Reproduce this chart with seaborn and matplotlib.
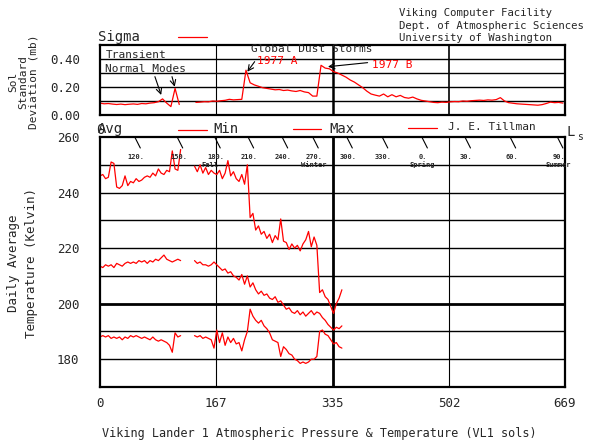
import numpy as np
import pandas as pd
import matplotlib
matplotlib.use("Agg")
import matplotlib.pyplot as plt
from matplotlib.lines import Line2D
import seaborn as sns

# daily temperatures, one value every 4 sols (nan = no data)
temp_sols = list(range(0, 352, 4))
t_max = [246, 246.5, 245, 245.5, 251, 250.5, 242, 241.5, 242.5, 246,
         242.5, 244, 243.5, 245, 244, 244.5, 245.5, 246, 245.5, 247,
         246, 248.5, 247, 246.5, 248, 247.5, 255, 248.5, 248, 255.5,
         np.nan, np.nan, np.nan, np.nan, 249.5, 247.5, 250, 247, 249, 246.5,
         248, 247, 246.5, 248, 245, 247, 251.5, 246, 247.5, 245,
         244, 246.5, 243, 250, 231, 232.5, 226.5, 228, 225, 226,
         223.5, 225, 222, 224.5, 223, 230.5, 222.5, 222, 219.5, 221.5,
         220, 221, 219, 221.5, 223, 226, 220.5, 224, 221, 204,
         205, 202.5, 201.5, 199, 196.5, 200, 202, 205]
t_avg = [213.5, 213, 214, 213.5, 214, 213, 214.5, 214, 213.5, 214.5,
         215, 214.5, 215, 214.5, 215.5, 215, 215.5, 214.5, 215.5, 215,
         216, 215.5, 216.5, 217.5, 216, 215.5, 215, 215.5, 216, 215.5,
         np.nan, np.nan, np.nan, np.nan, 215.5, 214.5, 215, 214, 214, 213.5,
         214, 215, 214, 213, 212, 212.5, 211, 211.5, 210, 209.5,
         208.5, 210.5, 207, 210, 206, 207.5, 205, 203.5, 204.5, 203,
         203.5, 202, 201.5, 202.5, 200.5, 201, 199.5, 198, 198.5, 197,
         196.5, 197.5, 196, 197, 195.5, 196.5, 197.5, 196, 197, 196.5,
         195, 194, 192.5, 191.5, 190.5, 191.5, 191, 192]
t_min = [188, 188.5, 188, 188.5, 187.5, 188, 187.5, 188, 187, 188,
         187.5, 188.5, 188, 188.5, 188, 187.5, 188, 187.5, 187, 188,
         187, 186.5, 187, 186.5, 186, 185, 182.5, 189.5, 188, 188.5,
         np.nan, np.nan, np.nan, np.nan, 188.5, 188, 188.5, 187.5, 188, 187.5,
         187, 184, 190.5, 186, 189.5, 185, 188, 186, 187.5, 185.5,
         186, 183, 187, 190, 198, 195.5, 194, 193, 194, 192,
         191, 189.5, 187, 186.5, 186, 181, 184.5, 183.5, 182, 181.5,
         180, 179.5, 178.5, 179, 178.5, 179, 180, 180, 181, 190,
         190.5, 189, 188.5, 187, 185.5, 186, 184.5, 184]

# sol standard deviation of pressure, one value every 6 sols
sigma_sols = list(range(0, 670, 6))
sigma = [0.085, 0.080, 0.082, 0.078, 0.075, 0.078, 0.074, 0.077, 0.079, 0.076,
         0.082, 0.080, 0.085, 0.088, 0.095, 0.115, 0.085, 0.060, 0.190, 0.075,
         np.nan, np.nan, np.nan, 0.090, 0.092, 0.095, 0.094, 0.100, 0.098, 0.102,
         0.105, 0.112, 0.108, 0.110, 0.112, 0.320, 0.230, 0.215, 0.205, 0.195,
         0.190, 0.185, 0.180, 0.182, 0.175, 0.178, 0.172, 0.168, 0.175, 0.165,
         0.160, 0.135, 0.135, 0.355, 0.335, 0.330, 0.310, 0.300, 0.285, 0.270,
         0.250, 0.235, 0.215, 0.195, 0.170, 0.150, 0.142, 0.135, 0.150, 0.130,
         0.145, 0.130, 0.140, 0.125, 0.120, 0.128, 0.115, 0.105, 0.100, 0.095,
         0.090, 0.088, 0.092, 0.090, 0.094, 0.096, 0.095, 0.100, 0.098, 0.102,
         0.104, 0.106, 0.104, 0.108, 0.106, 0.110, 0.124, 0.100, 0.088, 0.084,
         0.080, 0.078, 0.076, 0.074, 0.072, 0.070, 0.074, 0.082, 0.092, 0.088,
         0.090, 0.085]

x_ticks = [0, 167, 335, 502, 669]
ls_sols = [50, 111, 165, 213, 262, 306, 355, 406, 463, 525, 590, 658]
ls_labels = ["120.", "150.", "180.", "210.", "240.", "270.",
             "300.", "330.", "0.", "30.", "60.", "90."]
seasons = {"180.": "Fall", "270.": "Winter", "0.": "Spring", "90.": "Summer"}


W, H = 593, 442


def fx(px):
    return px / W


def fy(py):
    return 1 - py / H


sns.set_style("white")
plt.rcParams["font.family"] = ["DejaVu Sans Mono"]

fig = plt.figure(figsize=(W / 100, H / 100), dpi=100)
ax_s = fig.add_axes([fx(100), fy(115), 465 / W, 70 / H])
ax_t = fig.add_axes([fx(100), fy(387), 465 / W, 250 / H])

# ---------------- sigma panel ----------------
sig_df = pd.DataFrame({"sol": sigma_sols, "sigma": sigma})
sig_df["seg"] = (sig_df["sol"] > 118).astype(int)
sns.lineplot(data=sig_df, x="sol", y="sigma", units="seg", estimator=None,
             color="red", lw=0.9, ax=ax_s, legend=False)

ax_s.set_xlim(0, 669)
ax_s.set_ylim(0, 0.5)
for y in [0.1, 0.2, 0.3, 0.4]:
    ax_s.axhline(y, color="black", lw=1.0, zorder=0)
ax_s.axvline(167, color="black", lw=0.8, zorder=0)
ax_s.axvline(335, color="black", lw=1.8, zorder=0)
ax_s.axvline(502, color="black", lw=1.2, zorder=0)
ax_s.set_yticks([0, 0.2, 0.4])
ax_s.set_yticklabels(["0.00", "0.20", "0.40"])
ax_s.set_xticks([0])
ax_s.set_xticklabels(["0"])
ax_s.tick_params(axis="y", direction="out", length=3, width=1, pad=11, labelsize=9)
ax_s.tick_params(axis="x", length=0, pad=6, labelsize=10)
ax_s.set_xlabel("")
ax_s.set_ylabel("")

ax_s.text(8, 0.432, "Transient", fontsize=8, va="center")
ax_s.text(7, 0.332, "Normal Modes", fontsize=8, va="center")
arrow = dict(arrowstyle="->", color="black", lw=0.8, shrinkA=0, shrinkB=0)
ax_s.annotate("", xy=(88, 0.143), xytext=(79, 0.274), arrowprops=arrow)
ax_s.annotate("", xy=(107.5, 0.202), xytext=(103.6, 0.274), arrowprops=arrow)
ax_s.text(217, 0.471, "Global Dust Storms", fontsize=8, va="center", clip_on=False)
ax_s.text(226, 0.386, "1977 A", fontsize=8, color="red", va="center")
ax_s.annotate("", xy=(212, 0.309), xytext=(222.5, 0.381), arrowprops=arrow)
ax_s.text(391, 0.357, "1977 B", fontsize=8, color="red", va="center")
ax_s.annotate("", xy=(328, 0.345), xytext=(385, 0.374), arrowprops=arrow)

# ---------------- temperature panel ----------------
temp_df = pd.DataFrame({"sol": temp_sols, "Max": t_max, "Avg": t_avg, "Min": t_min})
temp_df["seg"] = (temp_df["sol"] > 118).astype(int)
for col in ["Max", "Avg", "Min"]:
    sns.lineplot(data=temp_df, x="sol", y=col, units="seg", estimator=None,
                 color="red", lw=0.9, ax=ax_t, legend=False)

ax_t.set_xlim(0, 669)
ax_t.set_ylim(170, 260)
for y in range(180, 260, 10):
    ax_t.axhline(y, color="black", lw=2.0 if y == 200 else 1.0, zorder=0)
ax_t.axvline(167, color="black", lw=0.8, zorder=0)
ax_t.axvline(335, color="black", lw=2.0, zorder=0)
ax_t.axvline(502, color="black", lw=0.8, zorder=0)
ax_t.set_yticks([180, 200, 220, 240, 260])
ax_t.set_xticks(x_ticks)
ax_t.set_xticklabels([str(t) for t in x_ticks])
ax_t.tick_params(axis="y", direction="out", length=4, width=1, pad=11, labelsize=9)
ax_t.tick_params(axis="x", length=0, pad=7, labelsize=9)
ax_t.set_xlabel("")
ax_t.set_ylabel("")

xform = ax_t.get_xaxis_transform()
for s, lab in zip(ls_sols, ls_labels):
    ax_t.plot([s, s + 8], [1.0, 0.956], transform=xform, color="black",
              lw=0.8, clip_on=False)
    ax_t.text(s + 2, 0.92, lab, transform=xform, ha="center", va="center",
              fontsize=5, fontweight="bold")
    if lab in seasons:
        off = -7 if lab == "180." else 1
        ax_t.text(s + off, 0.888, seasons[lab], transform=xform, ha="center",
                  va="center", fontsize=5, fontweight="bold")

for ax in (ax_s, ax_t):
    for sp in ax.spines.values():
        sp.set_color("black")
        sp.set_linewidth(1.6)

# ---------------- labels and legends ----------------
fig.text(fx(23), fy(82), "Sol\nStandard\nDeviation (mb)", rotation=90,
         ha="center", va="center", multialignment="center", fontsize=8,
         linespacing=1.0)
fig.text(fx(23), fy(263), "Daily Average\nTemperature (Kelvin)", rotation=90,
         ha="center", va="center", multialignment="center", fontsize=9,
         linespacing=1.5)
fig.text(fx(319), fy(433), "Viking Lander 1 Atmospheric Pressure & Temperature (VL1 sols)",
         ha="center", va="center", fontsize=8.5)
for i, line in enumerate(["Viking Computer Facility", "Dept. of Atmospheric Sciences",
                          "University of Washington"]):
    fig.text(fx(399), fy(13 + 12.7 * i), line, ha="left", va="center", fontsize=7.7)

fig.text(fx(98), fy(37), "Sigma", ha="left", va="center", fontsize=10)
fig.text(fx(98), fy(129), "Avg", ha="left", va="center", fontsize=10)
fig.text(fx(213), fy(129), "Min", ha="left", va="center", fontsize=10)
fig.text(fx(329), fy(129), "Max", ha="left", va="center", fontsize=10)
fig.text(fx(448), fy(127), "J. E. Tillman", ha="left", va="center", fontsize=8)
for x0, x1, py in [(178, 207, 37), (178, 207, 130), (293, 321, 129), (408, 437, 128)]:
    fig.add_artist(Line2D([fx(x0), fx(x1)], [fy(py), fy(py)], color="red",
                          lw=0.9, transform=fig.transFigure))
fig.text(fx(567), fy(132), "L", ha="left", va="center", fontsize=10)
fig.text(fx(577), fy(137), "s", ha="left", va="center", fontsize=7)

fig.savefig("out.png", dpi=100)
